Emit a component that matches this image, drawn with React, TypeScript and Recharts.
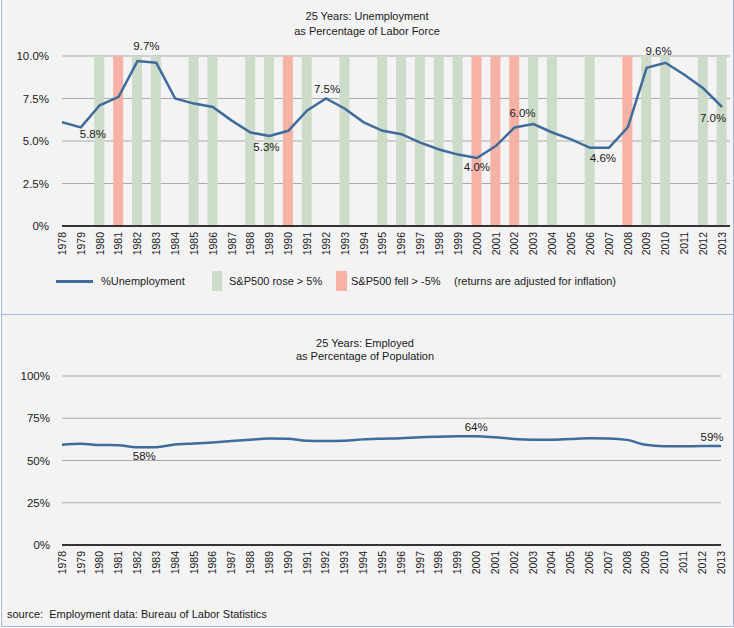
import React from 'react';
import { ComposedChart, Line, Bar, Cell, XAxis, YAxis, CartesianGrid, Legend } from 'recharts';

const years = [1978, 1979, 1980, 1981, 1982, 1983, 1984, 1985, 1986, 1987, 1988, 1989, 1990, 1991, 1992, 1993, 1994, 1995, 1996, 1997, 1998, 1999, 2000, 2001, 2002, 2003, 2004, 2005, 2006, 2007, 2008, 2009, 2010, 2011, 2012, 2013];
const unemployment = [6.1, 5.8, 7.1, 7.6, 9.7, 9.6, 7.5, 7.2, 7.0, 6.2, 5.5, 5.3, 5.6, 6.8, 7.5, 6.9, 6.1, 5.6, 5.4, 4.9, 4.5, 4.2, 4.0, 4.7, 5.8, 6.0, 5.5, 5.1, 4.6, 4.6, 5.8, 9.3, 9.6, 8.9, 8.1, 7.0];
const employment = [59.3, 59.9, 59.2, 59.0, 57.8, 57.9, 59.5, 60.1, 60.7, 61.5, 62.3, 63.0, 62.8, 61.7, 61.5, 61.7, 62.5, 62.9, 63.2, 63.8, 64.1, 64.3, 64.4, 63.7, 62.7, 62.3, 62.3, 62.7, 63.1, 63.0, 62.2, 59.3, 58.5, 58.4, 58.6, 58.6];
const riseYears = [1980, 1982, 1983, 1985, 1986, 1988, 1989, 1991, 1993, 1995, 1996, 1997, 1998, 1999, 2003, 2004, 2006, 2009, 2010, 2012, 2013];
const fallYears = [1981, 1990, 2000, 2001, 2002, 2008];
const unempTicks = [0, 2.5, 5, 7.5, 10];
const emplTicks = [0, 25, 50, 75, 100];
const unempLabelYears = [1979, 1982, 1989, 1992, 2000, 2003, 2007, 2010, 2013];
const emplLabelYears = [1982, 2000, 2013];

// label offsets (style, not data): [dx, dy]
const unempLabelOffsets: Record<number, [number, number]> = {
  1979: [12, 7], 1982: [9, -15], 1989: [-3, 11], 1992: [1, -10], 2000: [0, 9],
  2003: [-11, -11], 2007: [-6, 10], 2010: [-7, -12], 2013: [-9, 11],
};
const emplLabelOffsets: Record<number, [number, number]> = {
  1982: [7, 9], 2000: [0, -9], 2013: [-9, -9],
};

const BAR_TOP = 10;
const topData = years.map((y, i) => ({
  year: y,
  unemp: unemployment[i],
  bar: riseYears.includes(y) || fallYears.includes(y) ? BAR_TOP : null,
  kind: riseYears.includes(y) ? 'rise' : fallYears.includes(y) ? 'fall' : 'none',
}));
const bottomData = years.map((y, i) => ({ year: y, empl: employment[i] }));

const FONT = '"Liberation Sans", Arial, Helvetica, sans-serif';
const LINE = '#3f6b9d';
const GREEN = '#cddcc8';
const RED = '#f5b2a5';
const GRID = '#aaaaaa';
const TEXT = '#1a1a1a';
const BORDER = '#a3badb';

const YearTick = (props: any) => {
  const { x, y, payload } = props;
  const bx = x + 3.8;
  return (
    <text x={bx} y={y} transform={`rotate(-90, ${bx}, ${y})`} textAnchor="end" fontSize={10.5} fontFamily={FONT} fill={TEXT}>
      {payload.value}
    </text>
  );
};

const makeLabel = (labelYears: number[], offsets: Record<number, [number, number]>, fmt: (v: number) => string, src: any[]) => (props: any) => {
  const { x, y, index } = props;
  const row = src[index];
  if (!row || !labelYears.includes(row.year)) return null;
  const [dx, dy] = offsets[row.year] || [0, 0];
  return (
    <text key={`lbl-${row.year}`} x={x + dx} y={y + dy} dy="0.35em" textAnchor="middle" fontSize={11.5} fontFamily={FONT} fill={TEXT}>
      {fmt(props.value)}
    </text>
  );
};

const unempLabel = makeLabel(unempLabelYears, unempLabelOffsets, (v) => v.toFixed(1) + '%', topData);
const emplLabel = makeLabel(emplLabelYears, emplLabelOffsets, (v) => Math.round(v) + '%', bottomData);

const LegendContent = () => {
  const t: React.CSSProperties = { position: 'absolute', top: 4, fontSize: 11, fontFamily: FONT, color: TEXT, whiteSpace: 'pre', lineHeight: '14px' };
  return (
    <div style={{ position: 'relative', height: 22, width: 730 }}>
      <div style={{ position: 'absolute', left: 56, top: 10, width: 37, height: 2.5, background: LINE }} />
      <span style={{ ...t, left: 101 }}>%Unemployment</span>
      <div style={{ position: 'absolute', left: 212, top: 1, width: 10, height: 20, background: GREEN }} />
      <span style={{ ...t, left: 229 }}>S&amp;P500 rose &gt; 5%</span>
      <div style={{ position: 'absolute', left: 336, top: 1, width: 11, height: 20, background: RED }} />
      <span style={{ ...t, left: 351 }}>S&amp;P500 fell &gt; -5%</span>
      <span style={{ ...t, left: 454 }}>(returns are adjusted for inflation)</span>
    </div>
  );
};

const titleStyle = (top: number, width: number): React.CSSProperties => ({
  position: 'absolute', left: 0, top, width, textAlign: 'center', fontSize: 11, lineHeight: '14px', fontFamily: FONT, color: TEXT,
});

export default function App() {
  return (
    <div style={{ position: 'absolute', left: 0, top: 0, width: 734, height: 628, background: '#ffffff', fontFamily: FONT }}>
      <div style={{ position: 'absolute', left: 1, top: 0, width: 731, height: 626, background: '#f3f3f3', borderLeft: `1px solid ${BORDER}`, borderRight: `1px solid ${BORDER}`, borderBottom: `1px solid ${BORDER}` }} />
      <div style={{ position: 'absolute', left: 1, top: 314, width: 732, height: 1, background: BORDER }} />

      {/* Top panel */}
      <div style={{ position: 'absolute', left: 0, top: 0, width: 734, height: 314 }}>
        <div style={titleStyle(9, 734)}>25 Years: Unemployment</div>
        <div style={titleStyle(24, 734)}>as Percentage of Labor Force</div>
        <div style={{ position: 'absolute', left: 0, top: 0 }}>
          <ComposedChart width={734} height={314} data={topData} margin={{ top: 56, right: 4, left: 0, bottom: 22 }}>
            <CartesianGrid vertical={false} stroke={GRID} strokeWidth={1} />
            <XAxis
              dataKey="year" type="number" domain={[1978, 2013.42]} ticks={years} interval={0}
              allowDataOverflow height={44} tickSize={0} tickMargin={6} tick={<YearTick />}
              axisLine={{ stroke: '#000', strokeWidth: 1.5 }} tickLine={false}
            />
            <YAxis
              domain={[0, 10]} ticks={unempTicks} width={62} axisLine={false} tickLine={false} tickSize={0} tickMargin={13}
              tickFormatter={(v: number) => (v === 0 ? '0%' : v.toFixed(1) + '%')}
              tick={{ fontSize: 11.5, fontFamily: FONT, fill: TEXT }}
            />
            <Bar dataKey="bar" barSize={10} isAnimationActive={false} legendType="none">
              {topData.map((d) => (
                <Cell key={d.year} fill={d.kind === 'fall' ? RED : GREEN} />
              ))}
            </Bar>
            <Line dataKey="unemp" type="linear" stroke={LINE} strokeWidth={2.5} dot={false} isAnimationActive={false} label={unempLabel} />
            <Legend verticalAlign="bottom" align="left" content={<LegendContent />} />
          </ComposedChart>
        </div>
      </div>

      {/* Bottom panel */}
      <div style={{ position: 'absolute', left: 0, top: 314, width: 734, height: 314 }}>
        <div style={titleStyle(22, 730)}>25 Years: Employed</div>
        <div style={titleStyle(35, 730)}>as Percentage of Population</div>
        <div style={{ position: 'absolute', left: 0, top: 0 }}>
          <ComposedChart width={734} height={314} data={bottomData} margin={{ top: 62, right: 13, left: 0, bottom: 43 }}>
            <CartesianGrid vertical={false} stroke={GRID} strokeWidth={1} />
            <XAxis
              dataKey="year" type="number" domain={[1978, 2013]} ticks={years} interval={0}
              height={40} tickSize={0} tickMargin={6} tick={<YearTick />}
              axisLine={{ stroke: '#000', strokeWidth: 1.5 }} tickLine={false}
            />
            <YAxis
              domain={[0, 100]} ticks={emplTicks} width={62} axisLine={false} tickLine={false} tickSize={0} tickMargin={12}
              tickFormatter={(v: number) => v + '%'}
              tick={{ fontSize: 11.5, fontFamily: FONT, fill: TEXT }}
            />
            <Line dataKey="empl" type="monotone" stroke={LINE} strokeWidth={2.5} dot={false} isAnimationActive={false} label={emplLabel} />
          </ComposedChart>
        </div>
        <div style={{ position: 'absolute', left: 7, top: 293, fontSize: 11, lineHeight: '14px', fontFamily: FONT, color: TEXT, whiteSpace: 'pre' }}>
          source:  Employment data: Bureau of Labor Statistics
        </div>
      </div>
    </div>
  );
}
